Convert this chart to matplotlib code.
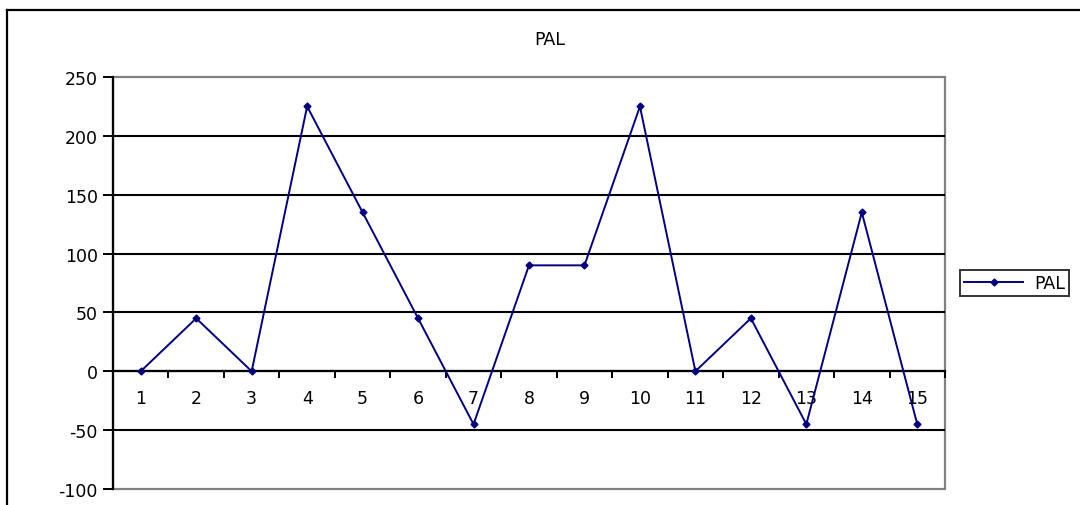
import matplotlib
matplotlib.use('Agg')
import matplotlib.pyplot as plt
from matplotlib.patches import Rectangle
from matplotlib.lines import Line2D

# Data
categories = list(range(1, 16))
pal_values = [0, 45, 0, 225, 135, 45, -45, 90, 90, 225, 0, 45, -45, 135, -45]
y_ticks = [-100, -50, 0, 50, 100, 150, 200, 250]

navy = '#000080'
W, H = 1080, 506
fig = plt.figure(figsize=(W / 100, H / 100), dpi=100)

# outer chart border (right/bottom edges fall off the image)
fig.add_artist(Line2D([7 / W, 1.0], [1 - 11 / H, 1 - 11 / H], transform=fig.transFigure,
                      color='black', lw=1.6))
fig.add_artist(Line2D([7 / W, 7 / W], [0, 1 - 11 / H], transform=fig.transFigure,
                      color='black', lw=1.6))

ax = fig.add_axes([113 / W, 16 / H, 832 / W, 412 / H])
ax.set_xlim(0.5, 15.5)
ax.set_ylim(-100, 250)

# horizontal gridlines
for y in y_ticks[1:-1]:
    ax.axhline(y, color='black', lw=1.5, zorder=1)

# plot area frame: gray top/right/bottom
ax.add_patch(Rectangle((0, 0), 1, 1, transform=ax.transAxes, fill=False,
                       edgecolor='#808080', lw=1.6, zorder=0.5, clip_on=False))
for side in ['top', 'right']:
    ax.spines[side].set_visible(False)
ax.spines['left'].set_color('black')
ax.spines['left'].set_linewidth(1.6)
ax.spines['bottom'].set_position(('data', 0))
ax.spines['bottom'].set_color('black')
ax.spines['bottom'].set_linewidth(1.6)

ax.plot(categories, pal_values, color=navy, lw=1.4, marker='D', markersize=3.5,
        label='PAL', zorder=3, clip_on=False)

ax.set_yticks(y_ticks)
ax.set_yticklabels([str(v) for v in y_ticks])
ax.tick_params(axis='y', direction='out', length=7, width=1.4, pad=4, labelsize=12.5)

ax.set_xticks(categories)
ax.set_xticklabels([str(c) for c in categories])
ax.set_xticks([c + 0.5 for c in [0] + categories], minor=True)
ax.tick_params(axis='x', which='major', length=0, pad=13, labelsize=12.5)
ax.tick_params(axis='x', which='minor', direction='out', length=5, width=1.4)

ax.set_title('PAL', fontsize=12.5, pad=24, x=0.525)

leg = ax.legend(loc='center left', bbox_to_anchor=(1.018, 0.5),
                frameon=True, fancybox=False, fontsize=12.5, handlelength=3.4,
                borderpad=0.25, handletextpad=0.6, borderaxespad=0)
leg.get_frame().set_edgecolor('black')
leg.get_frame().set_linewidth(1.4)

fig.savefig('out.png', dpi=100, facecolor='white')
